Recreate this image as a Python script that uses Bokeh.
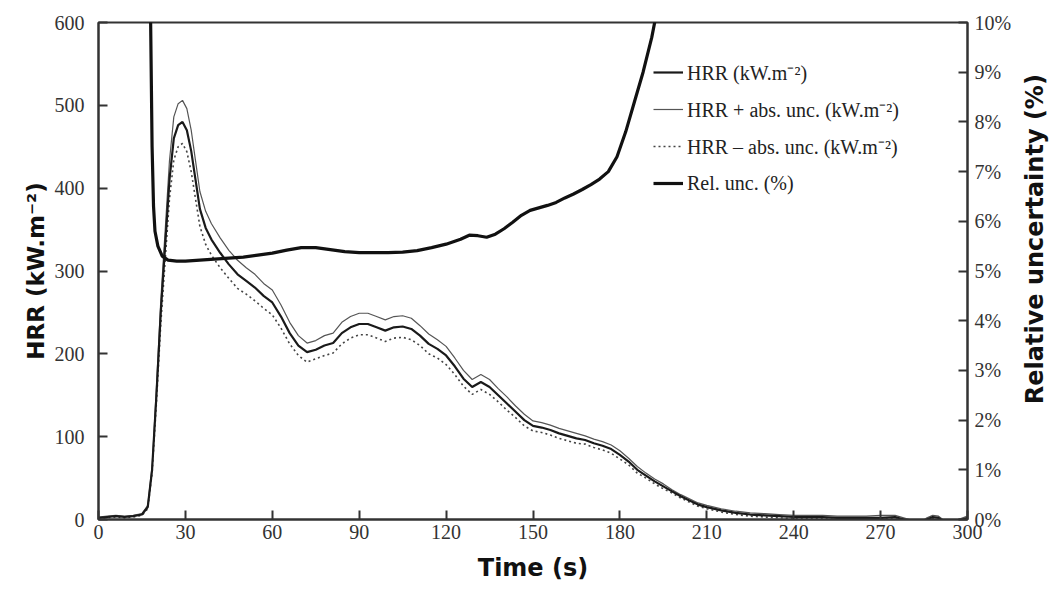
import math
from bokeh.plotting import figure
from bokeh.layouts import row
from bokeh.models import (LinearAxis, Range1d, FixedTicker, PrintfTickFormatter,
                          Legend, LegendItem)
from bokeh.core.properties import value
from bokeh.embed import file_html
from bokeh.resources import INLINE

# ---- data ----
time_s = [0, 3, 6, 9, 12, 15, 17, 18.5, 20, 21.5, 23, 24.5, 26, 27.5, 29, 30.5, 32, 33.5,
          35, 37, 39, 42, 45, 48, 51, 54, 57, 60, 63, 66, 69, 72, 75, 78, 81, 84, 87, 90,
          93, 96, 99, 102, 105, 108, 111, 114, 117, 120, 123, 126, 129, 132, 135, 138,
          141, 144, 147, 150, 153, 156, 159, 162, 165, 168, 171, 174, 177, 180, 183, 186,
          189, 192, 195, 198, 201, 204, 207, 210, 215, 220, 225, 230, 235, 240, 245, 250,
          255, 260, 265, 270, 275, 280, 283, 286, 288, 290, 293, 296, 300]
hrr = [2, 3, 4, 3, 4, 6, 15, 60, 150, 250, 330, 410, 460, 476, 480, 470, 445, 410,
       375, 352, 338, 322, 308, 296, 288, 280, 270, 262, 245, 225, 210, 202, 205, 210,
       213, 225, 232, 236, 236, 232, 228, 232, 233, 230, 222, 212, 206, 198, 185, 170,
       160, 166, 160, 150, 140, 130, 120, 113, 111, 108, 104, 101, 98, 96, 92, 89, 85,
       78, 70, 60, 53, 46, 40, 34, 28, 23, 18, 15, 11, 8, 6, 5, 4, 3, 3, 3, 2, 2, 2, 2,
       3, -2, -7, 0, 3, 2, -6, -3, 2]
hrr_plus = [3, 4, 5, 4, 5, 7, 17, 64, 159, 264, 348, 433, 486, 502, 506, 496, 470, 433,
            396, 372, 357, 340, 325, 313, 304, 296, 285, 277, 259, 238, 222, 213, 216,
            222, 225, 238, 245, 249, 249, 245, 241, 245, 246, 243, 234, 224, 217, 209,
            195, 180, 169, 175, 169, 158, 148, 137, 127, 119, 117, 114, 110, 107, 104,
            101, 97, 94, 90, 83, 74, 64, 56, 49, 43, 36, 30, 25, 20, 17, 13, 10, 8, 7, 6,
            5, 5, 5, 4, 4, 4, 5, 5, 0, -5, 2, 5, 4, -4, -1, 4]
hrr_minus = [1, 2, 3, 2, 3, 5, 13, 56, 141, 236, 312, 387, 434, 450, 454, 444, 420, 387,
             354, 332, 319, 304, 291, 279, 272, 264, 255, 247, 231, 212, 198, 190, 194,
             198, 201, 212, 219, 223, 223, 219, 215, 219, 220, 217, 210, 200, 195, 187,
             175, 161, 151, 157, 151, 142, 132, 123, 113, 107, 105, 102, 98, 95, 92, 91,
             87, 84, 80, 73, 66, 56, 50, 43, 37, 32, 26, 21, 16, 13, 9, 6, 4, 3, 2, 1, 1,
             1, 0, 0, 0, 1, 1, -4, -9, -2, 1, 0, -8, -5, 0]

rel_time = [17.6, 18, 18.5, 19, 19.5, 20.5, 22, 24, 27, 30, 35, 40, 45, 50, 55, 60, 65,
            70, 75, 80, 85, 90, 95, 100, 105, 110, 115, 120, 125, 128, 131, 134, 137,
            140, 143, 146, 149, 152, 155, 158, 161, 164, 167, 170, 173, 176, 179, 182,
            185, 188, 191, 193, 195]
rel_unc = [14, 10, 7.5, 6.3, 5.8, 5.5, 5.3, 5.22, 5.2, 5.2, 5.22, 5.24, 5.26, 5.28,
           5.32, 5.36, 5.42, 5.47, 5.47, 5.43, 5.39, 5.37, 5.37, 5.37, 5.38, 5.41, 5.47,
           5.54, 5.64, 5.72, 5.71, 5.68, 5.74, 5.85, 5.98, 6.12, 6.22, 6.27, 6.32, 6.38,
           6.47, 6.55, 6.64, 6.74, 6.85, 7.0, 7.3, 7.8, 8.4, 9.0, 9.7, 10.3, 11]

x_ticks = [0, 30, 60, 90, 120, 150, 180, 210, 240, 270, 300]
y_ticks = [0, 100, 200, 300, 400, 500, 600]
rel_ticks = [0, 1, 2, 3, 4, 5, 6, 7, 8, 9, 10]

labels = ["HRR (kW.m\u207b\u00b2)", "HRR + abs. unc. (kW.m\u207b\u00b2)",
          "HRR \u2013 abs. unc. (kW.m\u207b\u00b2)", "Rel. unc. (%)"]
right_title = "Relative uncertainty (%)"

SERIF = "Liberation Serif"
BOLD = "DejaVu Sans"

p = figure(width=1018, height=601, x_range=Range1d(0, 300), y_range=Range1d(0, 600),
           output_backend="svg", toolbar_location=None,
           min_border_left=98, min_border_right=51, min_border_top=22, min_border_bottom=82)
p.background_fill_color = "white"
p.border_fill_color = "white"
p.outline_line_color = "#333333"
p.outline_line_width = 2
p.xgrid.visible = False
p.ygrid.visible = False

p.extra_y_ranges = {"rel": Range1d(0, 10)}
right = LinearAxis(y_range_name="rel")
p.add_layout(right, "right")

for ax in [p.xaxis[0], p.yaxis[0], right]:
    ax.major_tick_in = 9
    ax.major_tick_out = 0
    ax.minor_tick_line_color = None
    ax.axis_line_width = 2
    ax.axis_line_color = "#333333"
    ax.major_tick_line_width = 2
    ax.major_tick_line_color = "#333333"
    ax.major_label_text_font = SERIF
    ax.major_label_text_font_size = "20px"
    ax.major_label_text_color = "#333333"
    ax.axis_label_text_font = BOLD
    ax.axis_label_text_font_style = "bold"
    ax.axis_label_text_font_size = "23px"
    ax.axis_label_text_color = "#111111"

p.xaxis[0].ticker = FixedTicker(ticks=x_ticks)
p.yaxis[0].ticker = FixedTicker(ticks=y_ticks)
right.ticker = FixedTicker(ticks=rel_ticks)
right.formatter = PrintfTickFormatter(format="%d%%")

p.xaxis[0].axis_label = "Time (s)"
p.xaxis[0].axis_label_text_font_size = "24px"
p.xaxis[0].major_label_standoff = 5
p.xaxis[0].axis_label_standoff = 12
p.yaxis[0].axis_label = "HRR (kW.m\u207b\u00b2)"
p.yaxis[0].major_label_standoff = 14
p.yaxis[0].axis_label_standoff = 3
right.major_label_standoff = 7

r_plus = p.line(time_s, hrr_plus, line_color="#555555", line_width=1.2)
r_minus = p.line(time_s, hrr_minus, line_color="#444444", line_width=1.6, line_dash="2 3")
r_main = p.line(time_s, hrr, line_color="#1a1a1a", line_width=2.2)
r_rel = p.line(rel_time, rel_unc, y_range_name="rel", line_color="#111111", line_width=3.2)

legend = Legend(items=[LegendItem(label=labels[0], renderers=[r_main]),
                       LegendItem(label=labels[1], renderers=[r_plus]),
                       LegendItem(label=labels[2], renderers=[r_minus]),
                       LegendItem(label=labels[3], renderers=[r_rel])],
                location=(555, 321))
legend.border_line_color = None
legend.background_fill_alpha = 0
legend.label_text_font = SERIF
legend.label_text_font_size = "20px"
legend.label_text_color = "#222222"
legend.glyph_width = 30
legend.glyph_height = 30
legend.label_height = 30
legend.spacing = 7
legend.padding = 0
legend.margin = 0
legend.label_standoff = 4
p.add_layout(legend, "center")

# narrow strip on the right carrying the right-axis title, reading bottom-to-top
t = figure(width=33, height=601, x_range=Range1d(0, 1), y_range=Range1d(0, 601),
           output_backend="svg", toolbar_location=None, min_border=0)
t.axis.visible = False
t.xgrid.visible = False
t.ygrid.visible = False
t.outline_line_color = None
t.background_fill_color = "white"
t.border_fill_color = "white"
t.text(x=[0.5], y=[339], text=[right_title], angle=math.pi / 2,
       text_align="center", text_baseline="middle", text_font=value(BOLD),
       text_font_style="bold", text_font_size="24px", text_color="#111111")

layout = row(p, t, spacing=0)
open("out.html", "w").write(file_html(layout, INLINE))
